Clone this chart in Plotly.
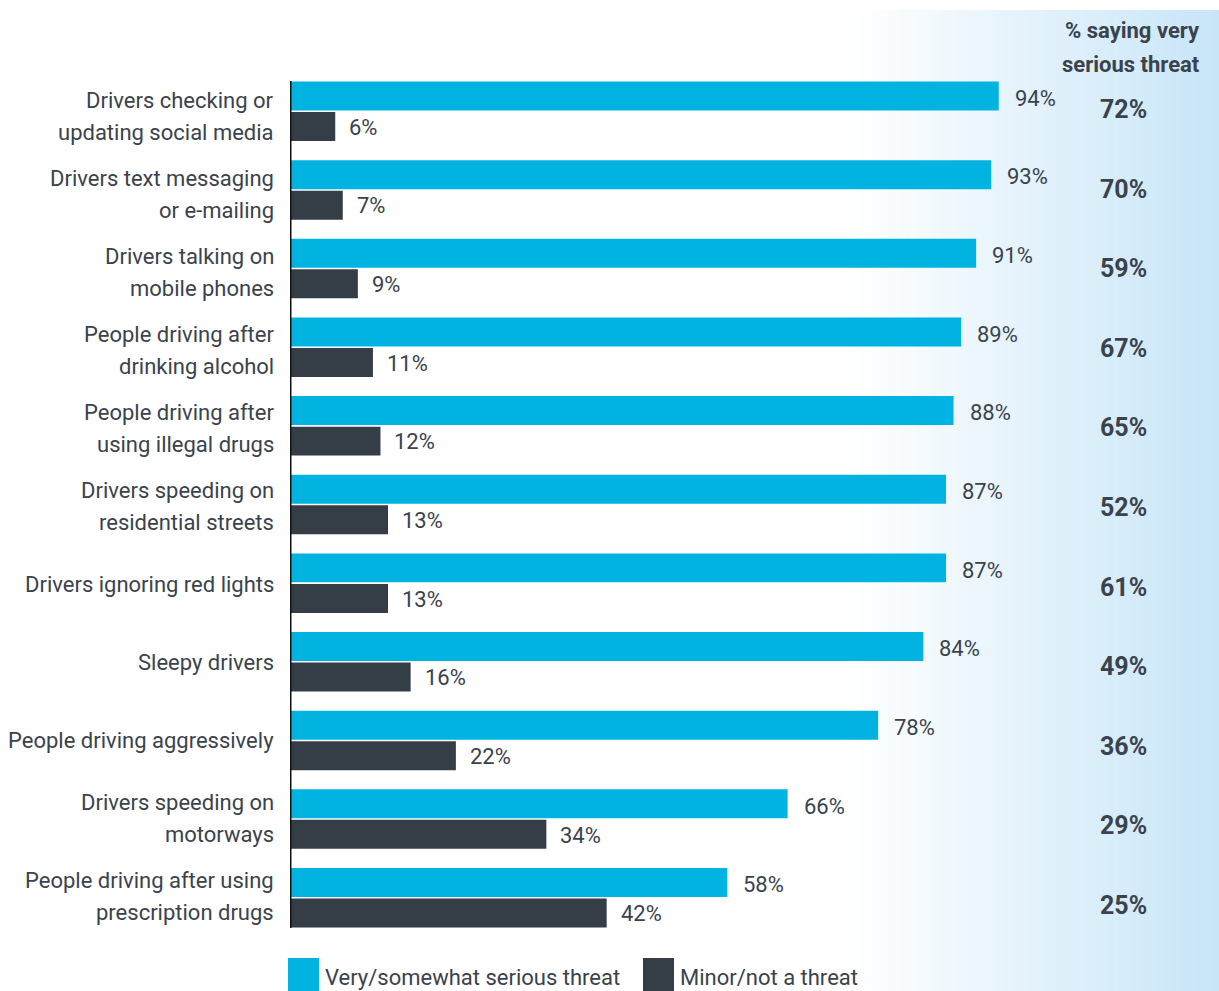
import plotly.graph_objects as go

# Survey data: perceived threat of driving behaviours
categories = [
    "Drivers checking or<br>updating social media",
    "Drivers text messaging<br>or e-mailing",
    "Drivers talking on<br>mobile phones",
    "People driving after<br>drinking alcohol",
    "People driving after<br>using illegal drugs",
    "Drivers speeding on<br>residential streets",
    "Drivers ignoring red lights",
    "Sleepy drivers",
    "People driving aggressively",
    "Drivers speeding on<br>motorways",
    "People driving after using<br>prescription drugs",
]
serious = [94, 93, 91, 89, 88, 87, 87, 84, 78, 66, 58]
minor = [6, 7, 9, 11, 12, 13, 13, 16, 22, 34, 42]
very_serious = [72, 70, 59, 67, 65, 52, 61, 49, 36, 29, 25]
series_names = ["Very/somewhat serious threat", "Minor/not a threat"]
side_title = ["% saying very", "serious threat"]

CYAN = "#00B3E0"
DARK = "#353E47"
TEXT = "#3A434C"
FONT = "Roboto"

W, H = 1219, 991
L, R, T, B = 290, 175, 72, 54
PW, PH = W - L - R, H - T - B


def px_x(p):
    return (p - L) / PW


def px_y(p):
    return (H - B - p) / PH


fig = go.Figure()
fig.add_trace(go.Bar(y=categories, x=serious, orientation="h", name=series_names[0],
                     marker=dict(color=CYAN, line=dict(width=0)), hoverinfo="x+y"))
fig.add_trace(go.Bar(y=categories, x=minor, orientation="h", name=series_names[1],
                     marker=dict(color=DARK, line=dict(width=0)), hoverinfo="x+y"))

annotations = []

# category labels, right-aligned against the baseline; the label column runs on a
# slightly tighter pitch than the bars, so each row gets a small vertical nudge
for i, cat in enumerate(categories):
    lines = cat.split("<br>")
    nudge = -(5.5 - 0.7 * i)
    shifts = [nudge] if len(lines) == 1 else [nudge + 16, nudge - 16]
    for line, ys in zip(lines, shifts):
        annotations.append(dict(x=px_x(276), y=cat, xref="paper", yref="y", text=line,
                                showarrow=False, xanchor="right", yanchor="middle", yshift=ys,
                                font=dict(family=FONT, size=22, color=TEXT)))

# value labels just past the end of each bar
for cat, s, m in zip(categories, serious, minor):
    annotations.append(dict(x=s, y=cat, xref="x", yref="y", text=f"{s}%", showarrow=False,
                            xanchor="left", yanchor="middle", xshift=14, yshift=13,
                            font=dict(family=FONT, size=22, color=TEXT)))
    annotations.append(dict(x=m, y=cat, xref="x", yref="y", text=f"{m}%", showarrow=False,
                            xanchor="left", yanchor="middle", xshift=12, yshift=-16,
                            font=dict(family=FONT, size=22, color=TEXT)))

# right-hand column: share saying "very serious" (its rows are spaced a touch wider)
for i, (cat, v) in enumerate(zip(categories, very_serious)):
    annotations.append(dict(x=px_x(1123), y=cat, xref="paper", yref="y", text=f"<b>{v}%</b>",
                            showarrow=False, xanchor="center", yanchor="middle",
                            yshift=1.5 - 0.9 * i,
                            font=dict(family=FONT, size=25, color=TEXT)))

for line, py in zip(side_title, [31, 64]):
    annotations.append(dict(x=px_x(1202), y=px_y(py), xref="paper", yref="paper", text=f"<b>{line}</b>",
                            showarrow=False, xanchor="right", yanchor="middle",
                            font=dict(family=FONT, size=22, color=TEXT)))

# legend drawn as swatches + text along the bottom
shapes = []
legend_items = [(series_names[0], CYAN, 288), (series_names[1], DARK, 643)]
for name, col, x0 in legend_items:
    shapes.append(dict(type="rect", xref="paper", yref="paper", x0=px_x(x0), x1=px_x(x0 + 31),
                       y0=px_y(958), y1=px_y(998), fillcolor=col, line=dict(width=0), layer="above"))
    annotations.append(dict(x=px_x(x0 + 35), y=px_y(977), xref="paper", yref="paper", text=name,
                            showarrow=False, xanchor="left", yanchor="middle",
                            font=dict(family=FONT, size=22, color=TEXT)))

# soft blue panel behind the right side, white fading to light blue
g0, g1 = 850, W
steps = 90
c_end = (200, 229, 248)
for i in range(steps):
    a = px_x(g0 + (g1 - g0) * i / steps)
    b = px_x(g0 + (g1 - g0) * (i + 1) / steps) + 0.002
    t = (i + 0.5) / steps
    rgb = tuple(round(255 + (c - 255) * t) for c in c_end)
    shapes.append(dict(type="rect", xref="paper", yref="paper", x0=a, x1=b,
                       y0=px_y(H + 5), y1=px_y(10), fillcolor=f"rgb{rgb}",
                       line=dict(width=0), layer="below"))

# vertical baseline at zero
shapes.append(dict(type="line", xref="x", yref="paper", x0=0, x1=0,
                   y0=px_y(928), y1=px_y(81), line=dict(color="#111111", width=3), layer="above"))

fig.update_layout(
    width=W, height=H,
    margin=dict(l=L, r=R, t=T, b=B, pad=0),
    paper_bgcolor="white", plot_bgcolor="rgba(0,0,0,0)",
    barmode="group", bargap=0.224, bargroupgap=0.05,
    showlegend=False,
    font=dict(family=FONT, color=TEXT),
    xaxis=dict(range=[0, 100], visible=False, fixedrange=True),
    yaxis=dict(autorange="reversed", showgrid=False, zeroline=False, showline=False,
               ticks="", showticklabels=False),
    shapes=shapes,
    annotations=annotations,
)

fig.write_html("out.html")
